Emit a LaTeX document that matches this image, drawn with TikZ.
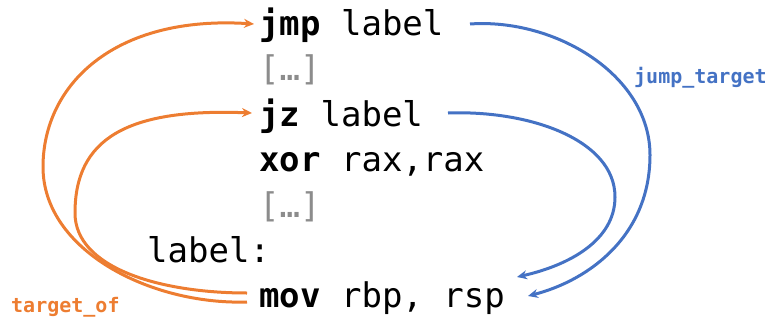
\documentclass[tikz,border=0pt]{standalone}
\usepackage{fontspec}
\usetikzlibrary{arrows.meta}
\newfontfamily\codefont{DejaVu Sans Mono}
\definecolor{jblue}{HTML}{4472C4}
\definecolor{torange}{HTML}{ED7D31}
\definecolor{elide}{HTML}{8C8C8C}
\tikzset{
  code/.style={anchor=base west, inner sep=0pt, font=\codefont\fontsize{34}{34}\selectfont},
  tag/.style={anchor=base west, inner sep=0pt, font=\codefont\bfseries\fontsize{20}{20}\selectfont},
  flow/.style={line width=3pt, -{Stealth[length=10pt,width=9pt]}},
}
\begin{document}
\begin{tikzpicture}[x=1pt, y=-1pt]
\useasboundingbox (0,0) rectangle (768,324);

% assembly listing
\node[code] (jmp) at (259,35) {\textbf{jmp} label};
\node[code, text=elide] (gap1) at (259,80.5) {[…]};
\node[code] (jz) at (259,126) {\textbf{jz} label};
\node[code] (xor) at (259,171.5) {\textbf{xor} rax,rax};
\node[code, text=elide] (gap2) at (259,217) {[…]};
\node[code] (lbl) at (147,262) {label:};
\node[code] (mov) at (259,307) {\textbf{mov} rbp, rsp};

% edge labels
\node[tag, text=jblue] (jt) at (634,83) {jump\_target};
\node[tag, text=torange] (to) at (11,312) {target\_of};

% connector end points
\coordinate (jmpR) at (470,24);
\coordinate (jzR) at (448,113);
\coordinate (movA) at (528,296);
\coordinate (movB) at (517,277);
\coordinate (movL1) at (247,302);
\coordinate (movL2) at (247,293);
\coordinate (jmpL) at (254,24);
\coordinate (jzL) at (252,113);

% jump_target: branch -> destination
\draw[flow, jblue] (jmpR) .. controls (555,18) and (650,75) .. (650,155)
  .. controls (650,235) and (590,280) .. (movA);
\draw[flow, jblue] (jzR) .. controls (530,110) and (615,140) .. (615,197)
  .. controls (615,240) and (570,265) .. (movB);

% target_of: destination -> branch
\draw[flow, torange] (movL1) .. controls (150,305) and (43,250) .. (43,167)
  .. controls (43,85) and (114,15) .. (jmpL);
\draw[flow, torange] (movL2) .. controls (160,293) and (75,268) .. (75,213)
  .. controls (75,140) and (125,108) .. (jzL);
\end{tikzpicture}
\end{document}
